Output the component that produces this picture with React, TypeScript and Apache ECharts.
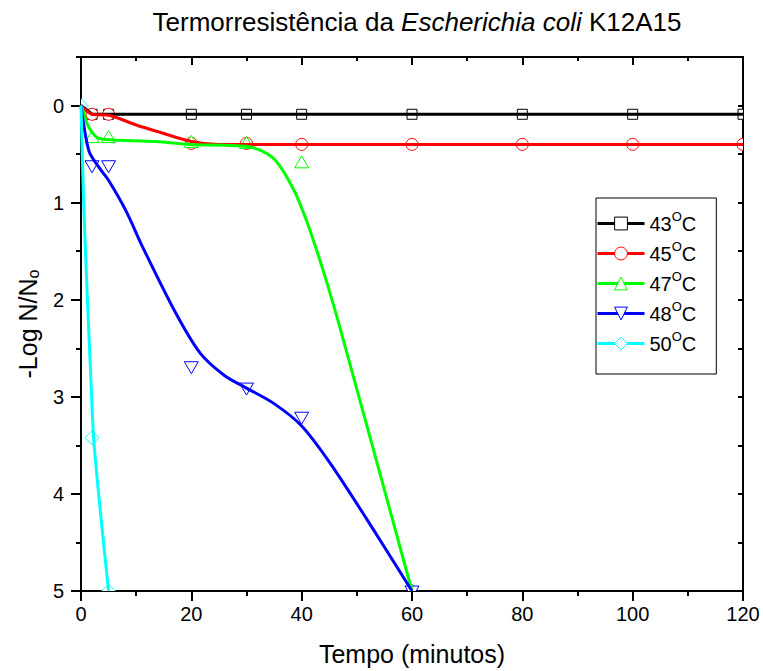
import React, { useEffect, useRef } from 'react';
import * as echarts from 'echarts';

const FONT = "'Liberation Sans', Arial, Helvetica, sans-serif";

// Legend / series names and colours
const seriesNames = ['43°C', '45°C', '47°C', '48°C', '50°C'];
const seriesColors = ['#000000', '#ff0000', '#00ff00', '#0000ff', '#00ffff'];

// Axis ticks
const xTicks = [0, 20, 40, 60, 80, 100, 120];
const yLabels = [0, 1, 2, 3, 4, 5];

// Measured data points (Tempo in minutes, -Log N/No)
const pts43: number[][] = [[2, 0.09], [5, 0.09], [20, 0.09], [30, 0.09], [40, 0.09], [60, 0.09], [80, 0.09], [100, 0.09], [120, 0.09]];
const pts45: number[][] = [[2, 0.09], [5, 0.09], [20, 0.39], [30, 0.39], [40, 0.4], [60, 0.4], [80, 0.4], [100, 0.4], [120, 0.4]];
const pts47: number[][] = [[2, 0.33], [5, 0.33], [20, 0.38], [30, 0.39], [40, 0.59], [60, 5]];
const pts48: number[][] = [[2, 0.62], [5, 0.62], [20, 2.69], [30, 2.91], [40, 3.21], [60, 5]];
const pts50: number[][] = [[0, 0], [2, 3.42], [5, 5]];

// Fitted (spline) curves
const fit43: number[][] = [[0, 0], [2, 0.09], [120, 0.09]];
const fit45: number[][] = [[0, 0], [2, 0.09], [5, 0.1], [10, 0.2], [14, 0.27], [20, 0.37], [25, 0.4], [120, 0.4]];
const fit47: number[][] = [[0, 0], [0.4, 0.06], [1.3, 0.21], [2.7, 0.32], [4.4, 0.35], [13.6, 0.37], [19.8, 0.4], [30, 0.42], [34.8, 0.54], [38.4, 0.85], [40.9, 1.19], [43.9, 1.7], [47, 2.3], [60, 5]];
const fit48: number[][] = [[0, 0], [0.2, 0.09], [1.45, 0.47], [3.3, 0.64], [5.1, 0.78], [8.2, 1.09], [11.2, 1.46], [17.2, 2.14], [21.6, 2.55], [26, 2.78], [30, 2.91], [35, 3.07], [40, 3.3], [45, 3.67], [51.8, 4.26], [60, 5]];
const fit50: number[][] = [[0, 0], [0.6, 1.2], [1.8, 2.83], [2.4, 3.51], [5, 5]];

const allPts = [pts43, pts45, pts47, pts48, pts50];
const allFits = [fit43, fit45, fit47, fit48, fit50];
const markerShapes = ['square', 'circle', 'up', 'down', 'diamond'];
const legendSymbols = ['rect', 'circle', 'triangle', 'path://M0,0L20,0L10,17Z', 'diamond'];

function markerSeries(name: string, data: number[][], color: string, shape: string) {
  return {
    type: 'custom',
    name,
    data,
    clip: true,
    encode: { x: 0, y: 1 },
    renderItem: (_params: any, api: any) => {
      const p = api.coord([api.value(0), api.value(1)]);
      const cx = p[0];
      const cy = p[1];
      const style = { fill: '#ffffff', stroke: color, lineWidth: 1 };
      if (shape === 'square') {
        return { type: 'rect', shape: { x: cx - 5, y: cy - 5, width: 10, height: 10 }, style };
      }
      if (shape === 'circle') {
        return { type: 'circle', shape: { cx, cy, r: 6 }, style };
      }
      if (shape === 'up') {
        return { type: 'polygon', shape: { points: [[cx, cy - 7], [cx + 7, cy + 5], [cx - 7, cy + 5]] }, style };
      }
      if (shape === 'down') {
        return { type: 'polygon', shape: { points: [[cx - 7, cy - 5], [cx + 7, cy - 5], [cx, cy + 7]] }, style };
      }
      return { type: 'polygon', shape: { points: [[cx, cy - 7], [cx + 7, cy], [cx, cy + 7], [cx - 7, cy]] }, style };
    },
  };
}

export default function App() {
  const ref = useRef<HTMLDivElement>(null);

  useEffect(() => {
    if (!ref.current) return;
    const chart = echarts.init(ref.current, undefined, { renderer: 'svg' });

    const series: any[] = [];
    seriesNames.forEach((name, i) => {
      series.push({
        type: 'line',
        name,
        data: allFits[i],
        smooth: i === 0 ? false : 0.3,
        symbol: legendSymbols[i],
        showSymbol: false,
        clip: true,
        lineStyle: { color: seriesColors[i], width: 3 },
        itemStyle: { color: seriesColors[i] },
      });
      series.push(markerSeries(name, allPts[i], seriesColors[i], markerShapes[i]));
    });

    const axisLine = { show: true, onZero: false, lineStyle: { color: '#000', width: 2 } };
    const tickLine = { color: '#000', width: 2 };

    chart.setOption({
      animation: false,
      backgroundColor: '#ffffff',
      title: {
        text: 'Termorresistência da {i|Escherichia coli} K12A15',
        left: 412,
        textAlign: 'center',
        top: 4,
        textStyle: {
          fontFamily: FONT,
          fontSize: 26,
          fontWeight: 'normal',
          color: '#000',
          rich: {
            i: { fontFamily: FONT, fontSize: 26, fontStyle: 'italic', color: '#000' },
          },
        },
      },
      grid: { left: 81, right: 20, top: 57, bottom: 79, containLabel: false },
      legend: {
        orient: 'vertical',
        left: 596,
        top: 198,
        padding: [12, 20, 17, 0],
        borderColor: '#000',
        borderWidth: 1,
        borderRadius: 0,
        backgroundColor: '#ffffff',
        itemWidth: 47,
        itemHeight: 16,
        itemGap: 3,
        selectedMode: false,
        data: seriesNames.map((n, i) => ({
          name: n,
          itemStyle: { color: '#ffffff', borderColor: seriesColors[i], borderWidth: 1 },
          lineStyle: { color: seriesColors[i], width: 3 },
        })),
        formatter: (name: string) => `{a|${name.replace('°C', '')}}{sup|O}{a|C}`,
        textStyle: {
          fontFamily: FONT,
          fontSize: 20,
          color: '#000',
          rich: {
            a: { fontFamily: FONT, fontSize: 20, lineHeight: 29, color: '#000' },
            sup: { fontFamily: FONT, fontSize: 13, lineHeight: 15, padding: [0, 0, 14, 0], color: '#000' },
          },
        },
      },
      xAxis: [
        {
          type: 'value',
          position: 'bottom',
          min: xTicks[0],
          max: xTicks[xTicks.length - 1],
          interval: 20,
          axisLine,
          axisTick: { show: true, inside: false, length: 10, lineStyle: tickLine },
          minorTick: { show: true, splitNumber: 2, length: 5, lineStyle: tickLine },
          splitLine: { show: false },
          minorSplitLine: { show: false },
          axisLabel: { fontFamily: FONT, fontSize: 20, color: '#000', margin: 13 },
          name: 'Tempo (minutos)',
          nameLocation: 'middle',
          nameGap: 50,
          nameTextStyle: { fontFamily: FONT, fontSize: 25, color: '#000' },
        },
        {
          type: 'value',
          position: 'top',
          min: xTicks[0],
          max: xTicks[xTicks.length - 1],
          interval: 20,
          axisLine,
          axisTick: { show: true, inside: true, length: 8, lineStyle: tickLine },
          minorTick: { show: true, splitNumber: 2, length: 4, lineStyle: tickLine },
          splitLine: { show: false },
          axisLabel: { show: false },
        },
      ],
      yAxis: [
        {
          type: 'value',
          position: 'left',
          inverse: true,
          min: -0.5,
          max: 5,
          interval: 0.5,
          axisLine,
          axisTick: { show: true, inside: false, length: 5, lineStyle: tickLine },
          splitLine: { show: false },
          axisLabel: {
            fontFamily: FONT,
            fontSize: 20,
            color: '#000',
            margin: 17,
            formatter: (v: number) => (yLabels.indexOf(v) >= 0 ? String(v) : ''),
          },
          name: '{a|-Log N/N}{sub|o}',
          nameLocation: 'middle',
          nameGap: 40,
          nameTextStyle: {
            fontFamily: FONT,
            fontSize: 25,
            color: '#000',
            rich: {
              a: { fontFamily: FONT, fontSize: 25, color: '#000' },
              sub: { fontFamily: FONT, fontSize: 16, color: '#000', padding: [10, 0, 0, 0] },
            },
          },
        },
        {
          type: 'value',
          position: 'left',
          inverse: true,
          min: -0.5,
          max: 5,
          interval: 0.5,
          axisLine: { show: false, onZero: false },
          axisTick: { show: true, inside: false, length: 10, lineStyle: tickLine, customValues: yLabels },
          splitLine: { show: false },
          axisLabel: { show: false },
        },
        {
          type: 'value',
          position: 'right',
          inverse: true,
          min: -0.5,
          max: 5,
          interval: 0.5,
          axisLine,
          axisTick: { show: true, inside: true, length: 5, lineStyle: tickLine },
          splitLine: { show: false },
          axisLabel: { show: false },
        },
      ],
      series,
    });

    return () => chart.dispose();
  }, []);

  return (
    <div
      ref={ref}
      style={{ position: 'fixed', left: 0, top: 0, width: 763, height: 671, background: '#ffffff' }}
    />
  );
}
